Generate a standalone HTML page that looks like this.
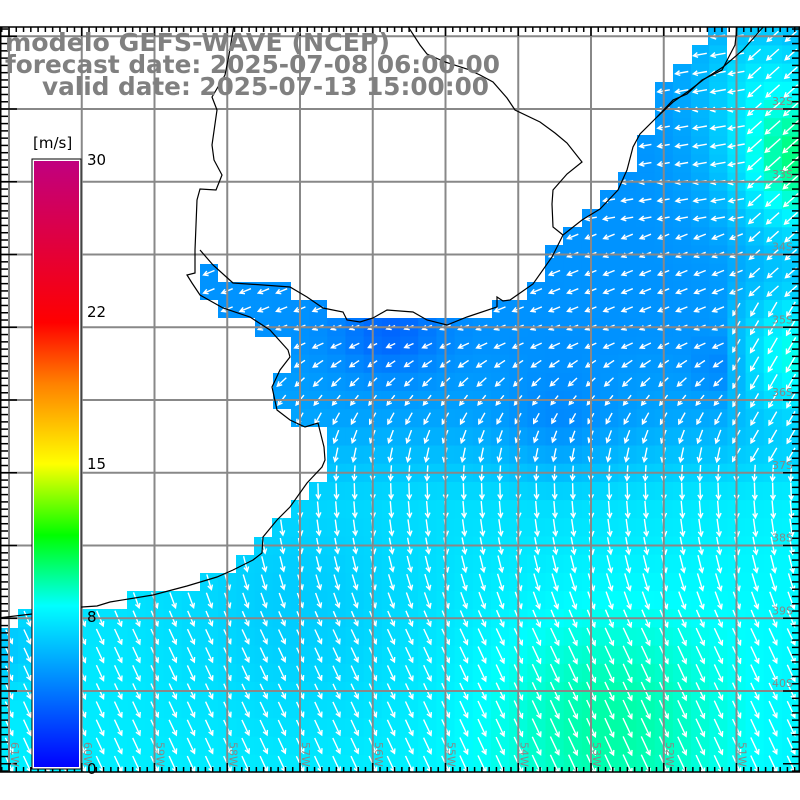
<!DOCTYPE html>
<html><head><meta charset="utf-8">
<style>html,body{margin:0;padding:0;background:#fff}svg{display:block}</style>
</head><body>
<svg id="s" width="800" height="800" xmlns="http://www.w3.org/2000/svg">
<defs>
<linearGradient id="cb" x1="0" y1="1" x2="0" y2="0">
<stop offset="0" stop-color="#0000ff"/>
<stop offset="0.267" stop-color="#00ffff"/>
<stop offset="0.383" stop-color="#00ff00"/>
<stop offset="0.5" stop-color="#ffff00"/>
<stop offset="0.633" stop-color="#ff8000"/>
<stop offset="0.733" stop-color="#ff0000"/>
<stop offset="1" stop-color="#c00080"/>
</linearGradient>
<clipPath id="fr"><rect x="0" y="27" width="800" height="745"/></clipPath>
</defs>
<g id="field" clip-path="url(#fr)"></g>
<g id="arrows" clip-path="url(#fr)" stroke="#fff" stroke-width="1.4" fill="none"></g>
<g clip-path="url(#fr)" fill="#fff">
<polygon points="-5,20 708,20 708,45 692,45 692,64 673,64 673,82 655,82 655,135 637,135 637,172 618,172 618,190 600,190 600,209 582,209 582,227 563,227 563,245 545,245 545,282 527,282 527,300 492,300 492,318 327,318 327,300 291,300 291,282 218,282 218,264 200,264 200,300 218,300 218,318 255,318 255,337 291,337 291,373 273,373 273,409 291,409 291,427 327,427 327,482 309,482 309,500 291,500 291,518 272,518 272,537 254,537 254,555 236,555 236,573 200,573 200,591 127,591 127,609 18,609 18,628 -5,628"/>
<rect x="727" y="20" width="10" height="40"/>
</g>
<g id="grid" stroke="#888" stroke-width="2" clip-path="url(#fr)"></g>
<g fill="none" stroke="#000" stroke-width="1.2" clip-path="url(#fr)">
<polyline points="-2,618 32,614 82,607 97,606 110,602 153,595 187,586 217,577 233,570 253,560 262,553 263,537 277,520 290,507 307,483 322,467 325,460 324,447 318,423 305,427 290,420 277,410 272,387 280,370 290,357 288,350 270,330 250,317 223,308 200,295 192,283 187,275 195,273 195,250"/>
<polyline points="200,250 213,265 233,283 263,285 290,287 307,297 323,308 343,312 347,320 360,322 373,318 387,310 413,312 427,320 447,325 467,317 497,307 497,297 503,301 510,300 533,284 552,257 563,235 582,220 600,209 618,190 627,170 633,147 640,134 657,117 673,102 690,90 703,80 723,67 743,50 765,25"/>
<polyline points="234,25 229,55 225,75 212,97 217,110 212,145 214,160 222,175 216,190 200,189 197,200 195,250"/>
<polyline points="407,25 420,45 427,54 445,62 467,69 480,75 493,82 507,98 515,110 540,122 555,133 567,143 582,162 567,174 553,190 552,204 553,227 563,235"/>
<polyline points="737,27 735,45 722,70 702,80 687,94 673,100 657,117"/>
</g>
<g id="ticks" stroke="#000" stroke-width="1.5"></g>
<rect x="0.75" y="27" width="798.5" height="745" fill="none" stroke="#000" stroke-width="1.5"/>
<g id="lbl" fill="#888" font-family="DejaVu Sans, sans-serif" font-size="11"></g>
<g fill="#808080" font-family="DejaVu Sans, Liberation Sans, sans-serif" font-weight="bold" font-size="25">
<text x="5" y="51" textLength="385" lengthAdjust="spacingAndGlyphs">modelo GEFS-WAVE (NCEP)</text>
<text x="5" y="73" textLength="495" lengthAdjust="spacingAndGlyphs">forecast date: 2025-07-08 06:00:00</text>
<text x="42" y="95" textLength="447" lengthAdjust="spacingAndGlyphs">valid date: 2025-07-13 15:00:00</text>
</g>
<rect x="33" y="160" width="47" height="608" fill="url(#cb)" stroke="#fff" stroke-width="2"/>
<rect x="32" y="159" width="49" height="610" fill="none" stroke="#000" stroke-width="1"/>
<g font-family="DejaVu Sans, sans-serif" font-size="15" fill="#000">
<text x="33" y="148">[m/s]</text>
<text x="87" y="165">30</text>
<text x="87" y="317">22</text>
<text x="87" y="469">15</text>
<text x="87" y="622">8</text>
<text x="87" y="774">0</text>
</g>
</svg>
<script>
(function(){
var NS="http://www.w3.org/2000/svg";
function el(t,a,p){var e=document.createElementNS(NS,t);for(var k in a)e.setAttribute(k,a[k]);p.appendChild(e);return e;}
function g(x,y,cx,cy,r){var d=((x-cx)*(x-cx)+(y-cy)*(y-cy))/(r*r);return Math.exp(-d);}
function sp(x,y){
 var s;
 if(y<340)s=4.6; else if(y<420)s=4.6+(y-340)/80*0.6; else if(y<500)s=5.2+(y-420)/80*1.8; else s=7+(y-500)/270*0.5;
 s-=1.4*g(x,y,390,330,50);
 s-=0.9*g(x,y,560,430,60);
 s-=0.8*g(x,y,720,370,30);
 s+=2.0*g(x,y,760,70,70);
 s+=5.0*g(x,y,805,165,75);
 s+=3.6*g(x,y,800,350,70)*(x>725?1:0.3);
 s+=1.8*g(x,y,610,720,130);
 s+=0.6*g(x,y,800,560,120);
 s-=0.8*g(x,y,300,620,120);
 s-=1.0*g(x,y,10,650,40);
 return s;
}
var st=[[0,[0,0,255]],[8,[0,255,255]],[11.5,[0,255,0]],[15,[255,255,0]],[19,[255,128,0]],[22,[255,0,0]],[30,[192,0,128]]];
function col(s){for(var i=0;i<st.length-1;i++){var a=st[i],b=st[i+1];if(s<=b[0]){var t=Math.max(0,(s-a[0])/(b[0]-a[0]));var c=a[1].map(function(v,j){return Math.round(v+(b[1][j]-v)*t)});return "rgb("+c.join(",")+")";}}return "rgb(192,0,128)";}
var F=document.getElementById("field"),A=document.getElementById("arrows");
var cs=72.75/4,x0=9-cs*1.5,y0=36.3-cs*1.5;
for(var i=0;i<46;i++)for(var j=0;j<44;j++){
 var x=x0+i*cs,y=y0+j*cs,cx=x+cs/2,cy=y+cs/2;
 el("rect",{x:x.toFixed(2),y:y.toFixed(2),width:(cs+0.6).toFixed(2),height:(cs+0.6).toFixed(2),fill:col(sp(cx,cy))},F);
}
for(var i=0;i<46;i++)for(var j=0;j<44;j++){
 var cx=x0+i*cs+cs/2,cy=y0+j*cs+cs/2;
 var s=sp(cx,cy);
 var a;
 if(cy<230)a=80; else if(cy<340)a=68; else if(cy<410)a=68-(cy-340)/70*35; else if(cy<480)a=33-(cy-410)/70*33; else a=-Math.min(25,(cy-480)/150*25);
 if(cx>740&&cy<300)a=48;
 else if(cx>720&&cy>=300&&cy<460)a=30;
 var r=a*Math.PI/180,L=3+s*1.9;
 var dx=-Math.sin(r),dy=Math.cos(r);
 var sx=cx-dx*L/2,sy=cy-dy*L/2,ex=cx+dx*L/2,ey=cy+dy*L/2;
 var h=5,ha=0.5;
 var b1x=ex-h*(dx*Math.cos(ha)-dy*Math.sin(ha)),b1y=ey-h*(dy*Math.cos(ha)+dx*Math.sin(ha));
 var b2x=ex-h*(dx*Math.cos(-ha)-dy*Math.sin(-ha)),b2y=ey-h*(dy*Math.cos(-ha)+dx*Math.sin(-ha));
 el("path",{d:"M"+sx.toFixed(1)+" "+sy.toFixed(1)+"L"+ex.toFixed(1)+" "+ey.toFixed(1)+"M"+b1x.toFixed(1)+" "+b1y.toFixed(1)+"L"+ex.toFixed(1)+" "+ey.toFixed(1)+"L"+b2x.toFixed(1)+" "+b2y.toFixed(1)},A);
}
var G=document.getElementById("grid"),T=document.getElementById("ticks"),Lb=document.getElementById("lbl");
var lons=["61W","60W","59W","58W","57W","56W","55W","54W","53W","52W","51W"];
for(var k=0;k<11;k++){var x=9+k*72.75;el("line",{x1:x,y1:27,x2:x,y2:772},G);
 var t=el("text",{x:0,y:0,transform:"translate("+(x+2)+",742) rotate(90)"},Lb);t.textContent=lons[k];}
var lats=["32S","33S","34S","35S","36S","37S","38S","39S","40S","41S"];
for(var k=0;k<10;k++){var y=36.3+k*72.75;el("line",{x1:0,y1:y,x2:800,y2:y},G);
 if(k>0){var t=el("text",{x:772,y:y-4},Lb);t.textContent=lats[k-1];}}
for(var k=0;k<=110;k++){var x=9+(k-1)*7.275;if(x<0||x>800)continue;var big=(k-1)%10==0;
 el("line",{x1:x,y1:27,x2:x,y2:27+(big?9:5)},T);el("line",{x1:x,y1:772,x2:x,y2:772-(big?9:5)},T);}
for(var k=-5;k<=105;k++){var y=36.3+k*7.275;if(y<27||y>772)continue;var big=k%10==0;
 el("line",{x1:0,y1:y,x2:(big?17:8),y2:y},T);el("line",{x1:800,y1:y,x2:800-(big?17:8),y2:y},T);}
})();
</script>
</body></html>
